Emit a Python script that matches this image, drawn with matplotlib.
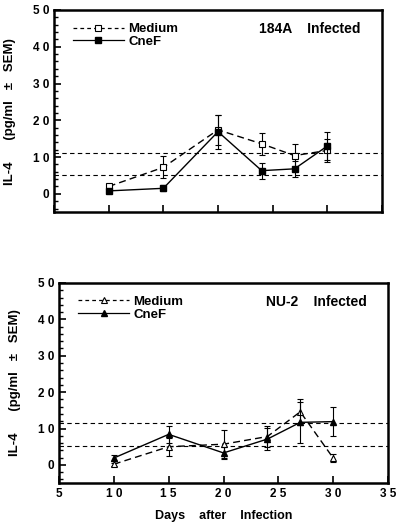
import matplotlib
matplotlib.use('Agg')
import matplotlib.pyplot as plt
from matplotlib.lines import Line2D
from matplotlib.ticker import MultipleLocator, FixedLocator

plt.rcParams['font.family'] = ['Liberation Sans', 'DejaVu Sans']
plt.rcParams['font.weight'] = 'bold'

# 感染后天数
days = [10, 15, 20, 24, 27, 30]

# 184A Infected
med_a = [2.0, 7.2, 17.4, 13.6, 10.4, 11.8]
med_a_err = [0.6, 3.0, 4.0, 3.0, 3.2, 3.2]
cne_a = [0.8, 1.5, 16.9, 6.3, 6.8, 13.0]
cne_a_err = [0.5, 0.8, 4.6, 2.2, 2.2, 3.8]

# NU-2 Infected
med_b = [0.2, 5.0, 5.7, 7.8, 14.6, 1.9]
med_b_err = [0.4, 2.5, 4.0, 3.0, 3.6, 1.2]
cne_b = [1.9, 8.4, 3.3, 7.1, 11.7, 11.9]
cne_b_err = [0.9, 2.4, 1.5, 3.0, 5.6, 3.9]

# 参考虚线
ref_a = [11.2, 5.0]
ref_b = [11.5, 5.2]

yticks = [0, 10, 20, 30, 40, 50]
ytick_labels = ['0', '1 0', '2 0', '3 0', '4 0', '5 0']
xticks = [5, 10, 15, 20, 25, 30, 35]
xtick_labels = ['5', '1 0', '1 5', '2 0', '2 5', '3 0', '3 5']

fig = plt.figure(figsize=(4.0, 5.24), dpi=100)
ax1 = fig.add_axes([0.135, 0.595, 0.82, 0.386])
ax2 = fig.add_axes([0.1475, 0.078, 0.8225, 0.382])

dash = (0, (4, 3))


def draw(ax, med, med_err, cne, cne_err, refs, mk, title, show_x):
    for r in refs:
        ax.axhline(r, color='black', linestyle=dash, linewidth=0.8, zorder=1)
    ax.errorbar(days, med, yerr=med_err, color='black', linestyle=(0, (5, 3)),
                linewidth=1.0, marker=mk, markersize=4.5, markerfacecolor='white',
                markeredgecolor='black', markeredgewidth=0.8, capsize=2.5,
                elinewidth=0.8, capthick=0.8, zorder=3)
    ax.errorbar(days, cne, yerr=cne_err, color='black', linestyle='-',
                linewidth=1.0, marker=mk, markersize=4.5, markerfacecolor='black',
                markeredgecolor='black', capsize=2.5, elinewidth=0.8,
                capthick=0.8, zorder=4)
    ax.set_xlim(5, 35)
    ax.set_ylim(-5, 50)
    ax.yaxis.set_major_locator(FixedLocator(yticks))
    ax.set_yticklabels(ytick_labels, fontsize=8.5, fontweight='bold')
    ax.yaxis.set_minor_locator(MultipleLocator(2))
    ax.xaxis.set_major_locator(FixedLocator(xticks))
    if show_x:
        ax.set_xticklabels(xtick_labels, fontsize=8.5, fontweight='bold')
    else:
        ax.set_xticklabels([])
    ax.tick_params(axis='both', which='major', direction='in', length=5, width=1.2,
                   top=False, right=False)
    ax.tick_params(axis='y', which='minor', direction='in', length=3, width=1.0)
    for s in ax.spines.values():
        s.set_linewidth(1.8)
    ax.text(0.935, 0.905, title, transform=ax.transAxes, ha='right', va='center',
            fontsize=10, fontweight='bold')
    handles = [
        Line2D([], [], color='black', linestyle=(0, (3, 2.5)), linewidth=0.9,
               marker=mk, markersize=4, markerfacecolor='white',
               markeredgewidth=0.8),
        Line2D([], [], color='black', linestyle='-', linewidth=0.9,
               marker=mk, markersize=4, markerfacecolor='black'),
    ]
    leg = ax.legend(handles, ['Medium', 'CneF'], loc='upper left',
                    bbox_to_anchor=(0.035, 0.975), frameon=False,
                    fontsize=9.5, handlelength=3.8, handletextpad=0.35,
                    labelspacing=0.05, borderaxespad=0.2, numpoints=1)
    for t in leg.get_texts():
        t.set_fontweight('bold')
    ax.set_ylabel('IL-4      (pg/ml   \u00b1   SEM)', fontsize=9.5, fontweight='bold',
                  labelpad=12)


draw(ax1, med_a, med_a_err, cne_a, cne_a_err, ref_a, 's', '184A    Infected', False)
draw(ax2, med_b, med_b_err, cne_b, cne_b_err, ref_b, '^', 'NU-2    Infected', True)
ax2.set_xlabel('Days    after    Infection', fontsize=9, fontweight='bold', labelpad=7)

fig.savefig('out.png', dpi=100)
